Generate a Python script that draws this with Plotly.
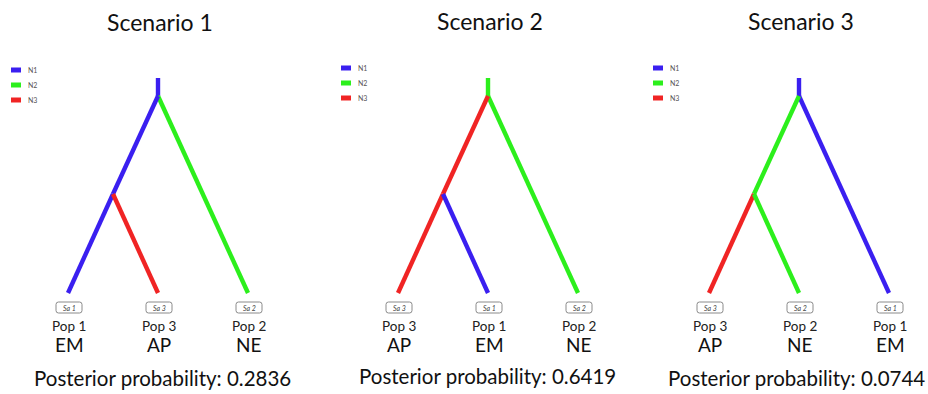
import plotly.graph_objects as go

# ---------------- data ----------------
scenarios = ["Scenario 1", "Scenario 2", "Scenario 3"]
posterior = [0.2836, 0.6419, 0.0744]
lineages = ["N1", "N2", "N3"]
lineage_colors = {"N1": "#3a1ff0", "N2": "#2cef1c", "N3": "#f02424"}
# leaves left-to-right in each scenario
leaf_pops = [["Pop 1", "Pop 3", "Pop 2"], ["Pop 3", "Pop 1", "Pop 2"], ["Pop 3", "Pop 2", "Pop 1"]]
leaf_groups = [["EM", "AP", "NE"], ["AP", "EM", "NE"], ["AP", "NE", "EM"]]
leaf_samples = [["Sa 1", "Sa 3", "Sa 2"], ["Sa 3", "Sa 1", "Sa 2"], ["Sa 3", "Sa 2", "Sa 1"]]
leaf_lineage = [["N1", "N3", "N2"], ["N3", "N1", "N2"], ["N3", "N2", "N1"]]
stem_lineage = ["N1", "N2", "N1"]    # root stem
inner_lineage = ["N1", "N3", "N2"]   # root -> internal node

# ---------------- layout constants ----------------
W, H = 928, 394
x0s = [68, 398, 709]
leg_x = [10, 340, 652]
leg_y = [70, 68, 68]
spacing = 90
y_stem_top, y_root, y_mid, y_leaf = 78, 96, 194, 293
title_y = [22, 21, 21]
post_x = [162, 487, 796]
post_y = [378, 376, 378]
FONT = "Lato"

fig = go.Figure()
shapes, ann = [], []


def seg(xs, ys, color, w=4.4):
    fig.add_trace(go.Scatter(x=xs, y=ys, mode="lines", line=dict(color=color, width=w),
                             hoverinfo="skip", showlegend=False))


for s in range(3):
    x0 = x0s[s]
    lx = [x0 + i * spacing for i in range(3)]
    root_x = lx[1]
    mid_x = (root_x + lx[0]) / 2
    # stem
    seg([root_x, root_x], [y_stem_top, y_root], lineage_colors[stem_lineage[s]])
    # root -> right leaf
    seg([root_x, lx[2]], [y_root, y_leaf], lineage_colors[leaf_lineage[s][2]])
    # root -> internal node
    seg([root_x, mid_x], [y_root, y_mid], lineage_colors[inner_lineage[s]])
    # internal -> leaves
    seg([mid_x, lx[0]], [y_mid, y_leaf], lineage_colors[leaf_lineage[s][0]])
    seg([mid_x, lx[1]], [y_mid, y_leaf], lineage_colors[leaf_lineage[s][1]])

    # legend
    for k, lin in enumerate(lineages):
        yy = leg_y[s] + k * 15
        seg([leg_x[s] + 1, leg_x[s] + 11], [yy, yy], lineage_colors[lin], w=5)
        ann.append(dict(x=leg_x[s] + 16, y=yy, text=lin, showarrow=False, xanchor="left",
                        font=dict(family=FONT, size=7, color="#555")))

    # leaves
    for i in range(3):
        cx = lx[i] + 1
        bx0, bx1, by0, by1, r = cx - 13, cx + 13, 302, 313, 2.5
        path = (f"M {bx0+r},{by0} L {bx1-r},{by0} Q {bx1},{by0} {bx1},{by0+r} "
                f"L {bx1},{by1-r} Q {bx1},{by1} {bx1-r},{by1} L {bx0+r},{by1} "
                f"Q {bx0},{by1} {bx0},{by1-r} L {bx0},{by0+r} Q {bx0},{by0} {bx0+r},{by0} Z")
        shapes.append(dict(type="path", path=path, xref="x", yref="y",
                           line=dict(color="#8a8a8a", width=1)))
        ann.append(dict(x=cx, y=307.5, text=f"<i>{leaf_samples[s][i]}</i>", showarrow=False,
                        font=dict(family=FONT, size=7, color="#444")))
        ann.append(dict(x=cx, y=326, text=leaf_pops[s][i], showarrow=False,
                        font=dict(family=FONT, size=13.5, color="#222")))
        ann.append(dict(x=cx, y=344, text=leaf_groups[s][i], showarrow=False,
                        font=dict(family=FONT, size=19, color="#111")))

    ann.append(dict(x=lx[1] + 2, y=title_y[s], text=scenarios[s], showarrow=False,
                    font=dict(family=FONT, size=23, color="#111")))
    ann.append(dict(x=post_x[s], y=post_y[s], text=f"Posterior probability: {posterior[s]:.4f}",
                    showarrow=False, font=dict(family=FONT, size=20.5, color="#111")))

fig.update_layout(
    width=W, height=H, margin=dict(l=0, r=0, t=0, b=0),
    paper_bgcolor="white", plot_bgcolor="white",
    xaxis=dict(range=[0, W], visible=False, fixedrange=True),
    yaxis=dict(range=[H, 0], visible=False, fixedrange=True),
    shapes=shapes, annotations=ann, showlegend=False,
)
fig.write_html("out.html", config={"displayModeBar": False},
               post_script="document.body.style.margin='0';document.body.style.overflow='hidden';")
